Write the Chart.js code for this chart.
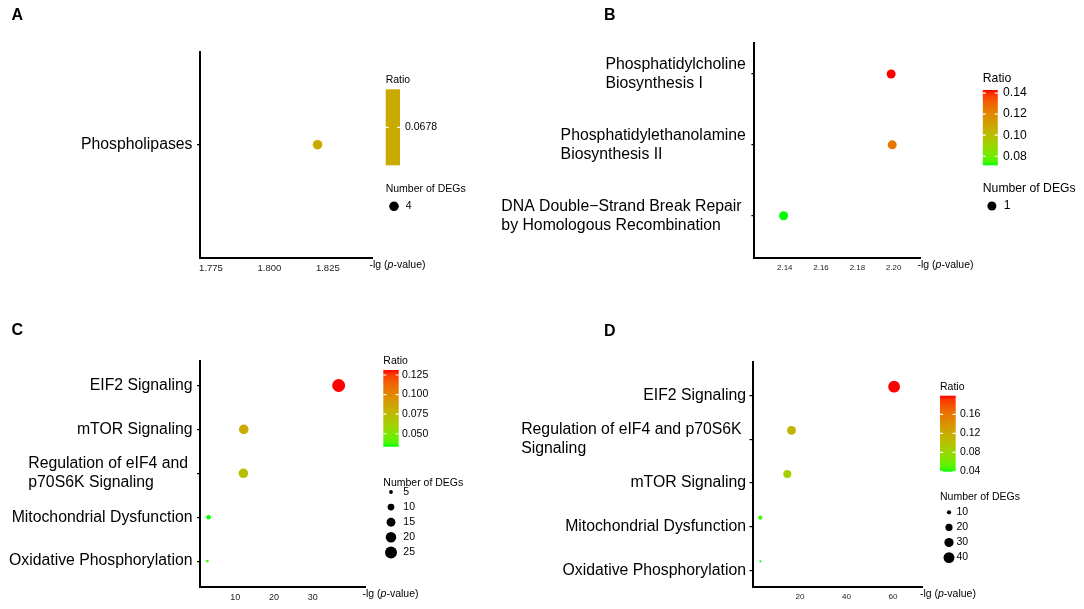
<!DOCTYPE html>
<html lang="en">
<head>
<meta charset="UTF-8" />
<title>IPA pathway bubble plots</title>
<script src="https://cdn.jsdelivr.net/npm/chart.js@4.4.1/dist/chart.umd.min.js"></script>
<style>
  body { margin: 0; background: #fff; }
  #wrap { position: relative; width: 1084px; height: 609px; overflow: hidden; }
  canvas { position: absolute; }
</style>
</head>
<body>
<div id="wrap">
  <canvas id="chartA"></canvas>
  <canvas id="chartB"></canvas>
  <canvas id="chartC"></canvas>
  <canvas id="chartD"></canvas>
</div>
<script>
// ---- data ----
const pathwaysA = ["Phospholipases"];
const pvalA = [1.8206];
const ratioA = [0.0678];
const degsA = [4];
const xTicksA = [1.775, 1.800, 1.825];
const ratioTicksA = [0.0678];
const degTicksA = [4];

const pathwaysB = [
  ["Phosphatidylcholine", "Biosynthesis I"],
  ["Phosphatidylethanolamine", "Biosynthesis II"],
  ["DNA Double\u2212Strand Break Repair ", "by Homologous Recombination"]
];
const pvalB = [2.1986, 2.1992, 2.1394];
const ratioB = [0.1429, 0.125, 0.0714];
const degsB = [1, 1, 1];
const xTicksB = [2.14, 2.16, 2.18, 2.20];
const ratioTicksB = [0.08, 0.10, 0.12, 0.14];
const degTicksB = [1];

const pathwaysC = [
  "EIF2 Signaling",
  "mTOR Signaling",
  ["Regulation of eIF4 and ", "p70S6K Signaling"],
  "Mitochondrial Dysfunction",
  "Oxidative Phosphorylation"
];
const pvalC = [36.7, 12.2, 12.1, 3.1, 2.8];
const ratioC = [0.1314, 0.0825, 0.0727, 0.0335, 0.0367];
const degsC = [29, 17, 17, 6, 4];
const xTicksC = [10, 20, 30];
const ratioTicksC = [0.050, 0.075, 0.100, 0.125];
const degTicksC = [5, 10, 15, 20, 25];

const pathwaysD = [
  "EIF2 Signaling",
  ["Regulation of eIF4 and p70S6K ", "Signaling"],
  "mTOR Signaling",
  "Mitochondrial Dysfunction",
  "Oxidative Phosphorylation"
];
const pvalD = [60.5, 16.3, 14.5, 2.9, 2.9];
const ratioD = [0.199, 0.111, 0.0875, 0.045, 0.0395];
const degsD = [46, 28, 24, 10, 6];
const xTicksD = [20, 40, 60];
const ratioTicksD = [0.04, 0.08, 0.12, 0.16];
const degTicksD = [10, 20, 30, 40];

// ---- layout (page pixels) ----
const FONT = "'Liberation Sans', Arial, Helvetica, sans-serif";

const layoutA = {
  ox: 0, oy: 0, w: 540, h: 300,
  area: { l: 200, r: 372, t: 52, b: 258 },
  xMin: 1.7703, xMax: 1.8439, xFont: 9.5, xDec: 3,
  yMin: -0.45, yMax: 0.55, tickShift: 0, labelGap: 7.5,
  letter: "A", letterX: 11.5, letterY: 20,
  lg: { x: 385.7, ratioY: 80, barTop: 89.3, barBot: 165.3, barW: 14.3, labelX: 405, degTitleY: 189.3,
        degY0: 206.3, degStep: 15, dotX: 394, degLabelX: 405.7, font: 10.5, dec: 4 },
  rConst: 4.8
};
const layoutB = {
  ox: 480, oy: 0, w: 604, h: 300,
  area: { l: 754.4, r: 920, t: 43.3, b: 258 },
  xMin: 2.1233, xMax: 2.2145, xFont: 7.9, xDec: 2,
  yMin: -0.433, yMax: 2.597, tickShift: 0, labelGap: 8.5,
  letter: "B", letterX: 604, letterY: 20,
  lg: { x: 982.8, ratioY: 79, barTop: 90, barBot: 165.3, barW: 15, labelX: 1003, degTitleY: 189,
        degY0: 206, degStep: 15, dotX: 991.9, degLabelX: 1003.7, font: 12.2, dec: 2 },
  rConst: 4.5
};
const layoutC = {
  ox: 0, oy: 300, w: 520, h: 309,
  area: { l: 200, r: 365, t: 360.7, b: 586.7 },
  xMin: 0.9, xMax: 43.5, xFont: 9, xDec: 0,
  yMin: -0.565, yMax: 4.583, tickShift: 0, labelGap: 7.5,
  letter: "C", letterX: 11.5, letterY: 335,
  lg: { x: 383.3, ratioY: 360.7, barTop: 370, barBot: 446.7, barW: 15.4, labelX: 402, degTitleY: 482.7,
        degY0: 492, degStep: 15.1, dotX: 391, degLabelX: 403.3, font: 10.5, dec: 3 },
  rMin: 1.4, rMax: 6.5
};
const layoutD = {
  ox: 520, oy: 300, w: 564, h: 309,
  area: { l: 752.5, r: 922.4, t: 361.7, b: 586.7 },
  xMin: -0.5, xMax: 72.7, xFont: 8.1, xDec: 0,
  yMin: -0.573, yMax: 4.58, tickShift: 0.206, labelGap: 6.5,
  letter: "D", letterX: 604, letterY: 335.7,
  lg: { x: 940, ratioY: 387, barTop: 395.7, barBot: 471.7, barW: 15.7, labelX: 960, degTitleY: 496.7,
        degY0: 512.3, degStep: 15.1, dotX: 949, degLabelX: 956.5, font: 10.5, dec: 2 },
  rMin: 1.05, rMax: 5.9
};

// ---- colour: ggplot-like green -> red gradient interpolated in CIELAB ----
function toLinear(c) { c /= 255; return c <= 0.04045 ? c / 12.92 : Math.pow((c + 0.055) / 1.055, 2.4); }
function fromLinear(c) { c = c <= 0.0031308 ? 12.92 * c : 1.055 * Math.pow(c, 1 / 2.4) - 0.055; return Math.round(Math.min(1, Math.max(0, c)) * 255); }
function rgbToLab(rgb) {
  const [r, g, b] = rgb.map(toLinear);
  const X = (0.4124 * r + 0.3576 * g + 0.1805 * b) / 0.95047;
  const Y = 0.2126 * r + 0.7152 * g + 0.0722 * b;
  const Z = (0.0193 * r + 0.1192 * g + 0.9505 * b) / 1.08883;
  const f = t => t > 0.008856 ? Math.cbrt(t) : 7.787 * t + 16 / 116;
  const fx = f(X), fy = f(Y), fz = f(Z);
  return [116 * fy - 16, 500 * (fx - fy), 200 * (fy - fz)];
}
function labToRgb([L, a, bb]) {
  const fy = (L + 16) / 116, fx = fy + a / 500, fz = fy - bb / 200;
  const inv = t => t * t * t > 0.008856 ? t * t * t : (t - 16 / 116) / 7.787;
  const X = inv(fx) * 0.95047, Y = inv(fy), Z = inv(fz) * 1.08883;
  const r = 3.2406 * X - 1.5372 * Y - 0.4986 * Z;
  const g = -0.9689 * X + 1.8758 * Y + 0.0415 * Z;
  const b = 0.0557 * X - 0.2040 * Y + 1.0570 * Z;
  return "rgb(" + fromLinear(r) + "," + fromLinear(g) + "," + fromLinear(b) + ")";
}
const LOW = rgbToLab([0, 255, 0]);
const HIGH = rgbToLab([255, 0, 0]);
function gradColor(t) {
  return labToRgb([0, 1, 2].map(k => LOW[k] + (HIGH[k] - LOW[k]) * t));
}
function ratioColor(v, lo, hi) {
  return gradColor(hi === lo ? 0.5 : (v - lo) / (hi - lo));
}
function sizeFor(n, degs, lay) {
  const lo = Math.min(...degs), hi = Math.max(...degs);
  if (hi === lo) return lay.rConst;
  const t = (n - lo) / (hi - lo);
  return Math.sqrt(lay.rMin * lay.rMin + (lay.rMax * lay.rMax - lay.rMin * lay.rMin) * t);
}

function makePanel(id, cats, pvals, ratios, degs, xTicks, ratioTicks, degTicks, lay) {
  const cv = document.getElementById(id);
  cv.width = lay.w; cv.height = lay.h;
  cv.style.left = lay.ox + "px"; cv.style.top = lay.oy + "px";
  const rLo = Math.min(...ratios), rHi = Math.max(...ratios);
  const X_H = 20, Y_W = 4;

  const extras = {
    id: "extras",
    afterDraw(chart) {
      const ctx = chart.ctx, ca = chart.chartArea, yt = chart.scales.yt;
      const ox = lay.ox, oy = lay.oy;
      ctx.save();
      // category labels: right-aligned blocks, lines left-aligned inside
      ctx.fillStyle = "#000";
      ctx.font = "15.8px " + FONT;
      ctx.textAlign = "left";
      ctx.textBaseline = "middle";
      cats.forEach((c, i) => {
        const lines = Array.isArray(c) ? c : [c];
        const wMax = Math.max(...lines.map(s => ctx.measureText(s).width));
        const x0 = ca.left - lay.labelGap - wMax;
        const y0 = yt.getPixelForValue(i) - (lines.length - 1) * 19 / 2;
        lines.forEach((s, k) => ctx.fillText(s, x0, y0 + k * 19));
      });
      // x axis title at the end of the axis
      const tx = ca.right - 2.5, ty = ca.bottom + 7.3;
      const parts = [["-lg (", "normal"], ["p", "italic"], ["-value)", "normal"]];
      let cx = tx;
      parts.forEach(([s, st]) => {
        ctx.font = st + " 10.5px " + FONT;
        ctx.fillText(s, cx, ty);
        cx += ctx.measureText(s).width;
      });
      // panel letter
      ctx.font = "bold 16px " + FONT;
      ctx.textBaseline = "alphabetic";
      ctx.fillText(lay.letter, lay.letterX - ox, lay.letterY - oy);
      // legend: colour bar
      const lg = lay.lg;
      ctx.textBaseline = "middle";
      ctx.font = lg.font + "px " + FONT;
      ctx.fillText("Ratio", lg.x - ox, lg.ratioY - oy);
      const bt = lg.barTop - oy, bb = lg.barBot - oy, bx = lg.x - ox;
      if (rHi === rLo) {
        ctx.fillStyle = gradColor(0.5);
      } else {
        const gr = ctx.createLinearGradient(0, bb, 0, bt);
        for (let k = 0; k <= 20; k++) gr.addColorStop(k / 20, gradColor(k / 20));
        ctx.fillStyle = gr;
      }
      ctx.fillRect(bx, bt, lg.barW, bb - bt);
      ratioTicks.forEach(v => {
        const yy = rHi === rLo ? (bt + bb) / 2 : bb - (v - rLo) / (rHi - rLo) * (bb - bt);
        ctx.strokeStyle = "#fff";
        ctx.lineWidth = 1.2;
        ctx.beginPath();
        ctx.moveTo(bx, yy); ctx.lineTo(bx + lg.barW * 0.2, yy);
        ctx.moveTo(bx + lg.barW * 0.8, yy); ctx.lineTo(bx + lg.barW, yy);
        ctx.stroke();
        ctx.fillStyle = "#000";
        ctx.fillText(v.toFixed(lg.dec), lg.labelX - ox, yy);
      });
      // legend: size
      ctx.fillStyle = "#000";
      ctx.fillText("Number of DEGs", lg.x - ox, lg.degTitleY - oy);
      degTicks.forEach((n, j) => {
        const yy = lg.degY0 - oy + j * lg.degStep;
        ctx.beginPath();
        ctx.arc(lg.dotX - ox, yy, sizeFor(n, degs, lay), 0, Math.PI * 2);
        ctx.fill();
        ctx.fillText(String(n), lg.degLabelX - ox, yy);
      });
      ctx.restore();
    }
  };

  new Chart(cv, {
    type: "scatter",
    data: {
      datasets: [{
        data: pvals.map((p, i) => ({ x: p, y: i })),
        xAxisID: "x",
        yAxisID: "y",
        pointRadius: degs.map(n => sizeFor(n, degs, lay)),
        pointHoverRadius: degs.map(n => sizeFor(n, degs, lay)),
        pointBackgroundColor: ratios.map(r => ratioColor(r, rLo, rHi)),
        pointBorderWidth: 0
      }]
    },
    options: {
      responsive: false,
      animation: false,
      events: [],
      layout: {
        padding: {
          left: lay.area.l - lay.ox - Y_W,
          right: lay.w - (lay.area.r - lay.ox),
          top: lay.area.t - lay.oy,
          bottom: lay.h - (lay.area.b - lay.oy) - X_H
        }
      },
      plugins: { legend: { display: false }, tooltip: { enabled: false } },
      scales: {
        x: {
          type: "linear",
          min: lay.xMin,
          max: lay.xMax,
          afterBuildTicks: s => { s.ticks = xTicks.map(v => ({ value: v })); },
          afterFit: s => { s.height = X_H; },
          ticks: {
            font: { family: FONT, size: lay.xFont },
            color: "#222",
            padding: 2,
            maxRotation: 0,
            autoSkip: false,
            callback: v => Number(v).toFixed(lay.xDec)
          },
          grid: { display: true, drawOnChartArea: false, drawTicks: true, tickLength: 3, color: "rgba(0,0,0,0)" },
          border: { display: true, color: "#000", width: 2 }
        },
        y: { type: "linear", display: false, reverse: true, min: lay.yMin, max: lay.yMax },
        yt: {
          type: "linear",
          position: "left",
          reverse: true,
          min: lay.yMin - lay.tickShift,
          max: lay.yMax - lay.tickShift,
          afterBuildTicks: s => { s.ticks = cats.map((c, i) => ({ value: i })); },
          afterFit: s => { s.width = Y_W; },
          ticks: { display: false },
          grid: { display: true, drawOnChartArea: false, drawTicks: true, tickLength: 3, color: "#000", lineWidth: 1.2 },
          border: { display: true, color: "#000", width: 2 }
        }
      }
    },
    plugins: [extras]
  });
}

makePanel("chartA", pathwaysA, pvalA, ratioA, degsA, xTicksA, ratioTicksA, degTicksA, layoutA);
makePanel("chartB", pathwaysB, pvalB, ratioB, degsB, xTicksB, ratioTicksB, degTicksB, layoutB);
makePanel("chartC", pathwaysC, pvalC, ratioC, degsC, xTicksC, ratioTicksC, degTicksC, layoutC);
makePanel("chartD", pathwaysD, pvalD, ratioD, degsD, xTicksD, ratioTicksD, degTicksD, layoutD);
</script>
</body>
</html>
